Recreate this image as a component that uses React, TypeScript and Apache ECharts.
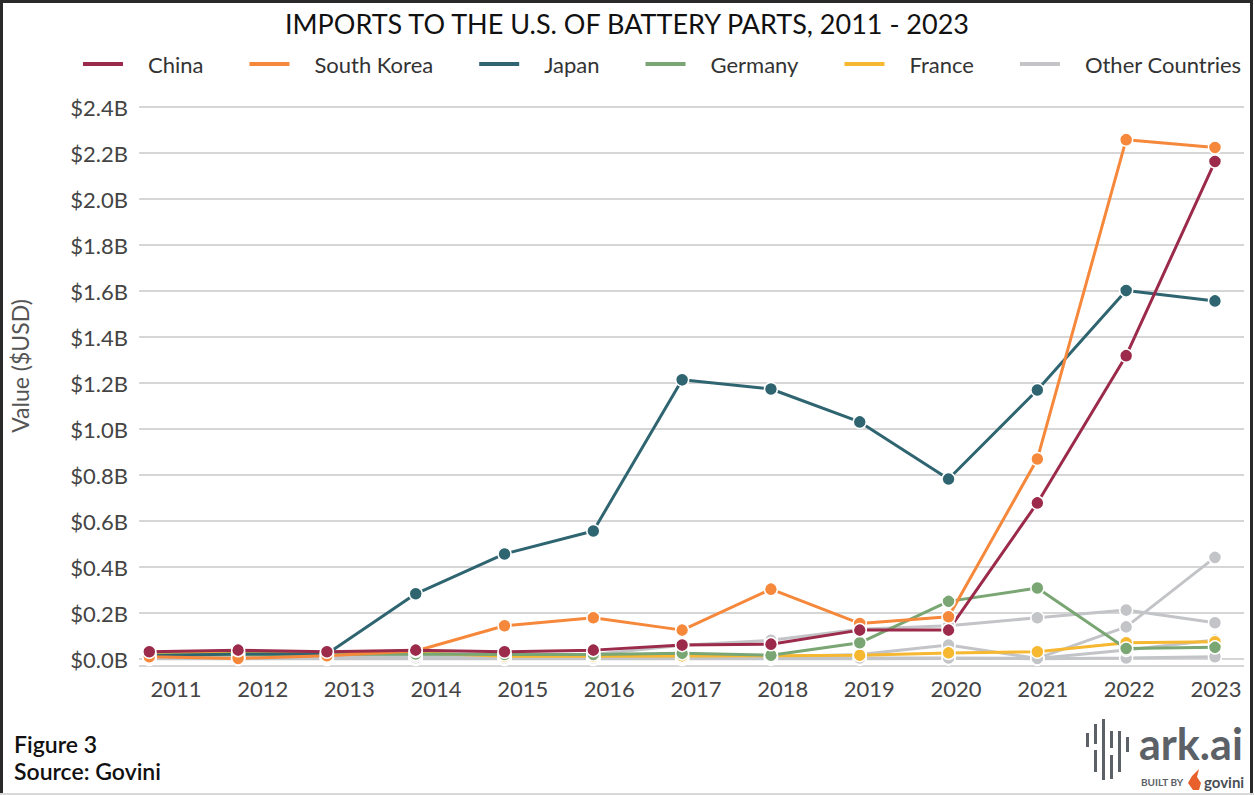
import React, { useEffect, useRef } from "react";
import * as echarts from "echarts";

const years = [2011, 2012, 2013, 2014, 2015, 2016, 2017, 2018, 2019, 2020, 2021, 2022, 2023];
const yearLabels = years.map((y) => String(y));
const china = [0.032, 0.039, 0.032, 0.039, 0.032, 0.039, 0.061, 0.065, 0.126, 0.126, 0.679, 1.319, 2.163];
const southKorea = [0.01, 0.003, 0.015, 0.035, 0.145, 0.18, 0.126, 0.304, 0.155, 0.184, 0.87, 2.258, 2.224];
const japan = [0.015, 0.022, 0.022, 0.284, 0.457, 0.557, 1.214, 1.174, 1.031, 0.783, 1.17, 1.602, 1.557];
const germany = [0.018, 0.02, 0.02, 0.022, 0.02, 0.02, 0.025, 0.017, 0.071, 0.251, 0.309, 0.046, 0.051];
const france = [0.025, 0.028, 0.025, 0.028, 0.012, 0.012, 0.014, 0.015, 0.017, 0.027, 0.032, 0.071, 0.075];
const otherA = [0.008, 0.01, 0.01, 0.015, 0.015, 0.02, 0.06, 0.082, 0.13, 0.145, 0.18, 0.213, 0.158];
const otherB = [0.005, 0.005, 0.005, 0.006, 0.005, 0.005, 0.008, 0.01, 0.02, 0.061, 0.003, 0.14, 0.442];
const otherC = [0.003, 0.003, 0.003, 0.004, 0.003, 0.003, 0.003, 0.005, 0.005, 0.005, 0.003, 0.04, 0.083];
const otherD = [0.001, 0.001, 0.001, 0.001, 0.001, 0.001, 0.001, 0.002, 0.002, 0.003, 0.002, 0.005, 0.01];

const legendNames = ["China", "South Korea", "Japan", "Germany", "France", "Other Countries"];
const colors: Record<string, string> = {
  China: "#9b2a4b",
  "South Korea": "#f5883b",
  Japan: "#2f6570",
  Germany: "#79a672",
  France: "#f6b731",
  "Other Countries": "#c3c4c7",
};

const FONT = "Lato";

function makeSeries(name: string, values: number[]) {
  const c = colors[name];
  return {
    name,
    type: "line",
    xAxisIndex: 0,
    yAxisIndex: 0,
    data: years.map((y, i) => [y, values[i]]),
    symbol: "circle",
    symbolSize: 13,
    lineStyle: { width: 3, color: c },
    itemStyle: { color: c, borderColor: "#ffffff", borderWidth: 1.5 },
    emphasis: { disabled: true },
  };
}

const barRects: number[][] = [
  [1086, 733, 3, 14],
  [1094, 724, 3, 20],
  [1094, 750, 3, 22],
  [1102, 719, 3, 61],
  [1110, 731, 3, 17],
  [1110, 755, 3, 24],
  [1118, 731, 3, 41],
  [1126, 737, 3, 15],
];

export default function App() {
  const ref = useRef<HTMLDivElement>(null);
  useEffect(() => {
    if (!ref.current) return;
    const chart = echarts.init(ref.current, undefined, { renderer: "svg" });
    const option: any = {
      animation: false,
      backgroundColor: "#ffffff",
      textStyle: { fontFamily: FONT },
      title: {
        text: "IMPORTS TO THE U.S. OF BATTERY PARTS, 2011 - 2023",
        left: "center",
        top: 5,
        textStyle: { fontFamily: FONT, fontSize: 27, fontWeight: "normal", color: "#111111" },
      },
      legend: {
        data: legendNames,
        left: 83,
        top: 53,
        padding: 0,
        icon: "rect",
        itemWidth: 40,
        itemHeight: 4,
        itemGap: 46,
        itemStyle: { borderWidth: 0 },
        textStyle: { fontFamily: FONT, fontSize: 22, color: "#333333", padding: [0, 0, 0, 20] },
      },
      grid: [
        { left: 139, right: 10, top: 107, bottom: 129, containLabel: false },
        { left: 176, right: 38, top: 107, bottom: 129, containLabel: false },
      ],
      xAxis: [
        {
          type: "value",
          gridIndex: 0,
          min: 2010.884,
          max: 2023.327,
          splitNumber: 12,
          axisLine: { show: false },
          axisTick: { show: false },
          splitLine: { show: false },
          axisLabel: { show: false },
        },
        {
          type: "category",
          gridIndex: 1,
          data: yearLabels,
          boundaryGap: false,
          axisLine: { show: false },
          axisTick: { show: false },
          splitLine: { show: false },
          axisLabel: { fontFamily: FONT, fontSize: 22, color: "#444444", margin: 11, interval: 0 },
        },
      ],
      yAxis: [
        {
          type: "value",
          gridIndex: 0,
          min: -0.03,
          max: 2.4,
          splitNumber: 12,
          axisLine: { show: false },
          axisTick: { show: false },
          splitLine: { show: true, lineStyle: { color: "#d6d6d6", width: 2 } },
          axisLabel: {
            showMinLabel: false,
            fontFamily: FONT,
            fontSize: 22,
            color: "#444444",
            margin: 11,
            formatter: (v: number) => (v < 0 ? "" : "$" + v.toFixed(1) + "B"),
          },
        },
        {
          type: "value",
          gridIndex: 1,
          show: false,
          min: 0,
          max: 1,
        },
      ],
      series: [
        makeSeries("Other Countries", otherD),
        makeSeries("Other Countries", otherC),
        makeSeries("Other Countries", otherB),
        makeSeries("Other Countries", otherA),
        makeSeries("France", france),
        makeSeries("Germany", germany),
        makeSeries("Japan", japan),
        makeSeries("South Korea", southKorea),
        makeSeries("China", china),
      ],
      graphic: [
        {
          type: "rect",
          shape: { x: 1.5, y: 1.5, width: 1250, height: 800 },
          style: { fill: "none", stroke: "#2a2a2a", lineWidth: 3 },
          silent: true,
        },
        {
          type: "line",
          shape: { x1: 0, y1: 794, x2: 1254, y2: 794 },
          style: { stroke: "#d8d8d8", lineWidth: 2 },
          silent: true,
        },
        {
          type: "text",
          x: 20,
          y: 366,
          rotation: Math.PI / 2,
          style: {
            text: "Value ($USD)",
            fontFamily: FONT,
            fontSize: 23,
            fill: "#555555",
            align: "center",
            verticalAlign: "middle",
          },
          silent: true,
        },
        {
          type: "text",
          left: 14,
          top: 732,
          style: { text: "Figure 3", fontFamily: FONT, fontSize: 23, fontWeight: 600, fill: "#111111" },
        },
        {
          type: "text",
          left: 14,
          top: 759,
          style: { text: "Source: Govini", fontFamily: FONT, fontSize: 23, fontWeight: 600, fill: "#111111" },
        },
        ...barRects.map((r) => ({
          type: "rect",
          shape: { x: r[0], y: r[1], width: r[2], height: r[3] },
          style: { fill: "#5b6167" },
          silent: true,
        })),
        {
          type: "text",
          left: 1139,
          top: 722,
          style: { text: "ark.ai", fontFamily: FONT, fontSize: 43, fontWeight: "bold", fill: "#5b6167" },
        },
        {
          type: "text",
          left: 1141,
          top: 777,
          style: { text: "BUILT BY", fontFamily: FONT, fontSize: 10, fontWeight: "bold", fill: "#5b6167" },
        },
        {
          type: "polygon",
          shape: { points: [[1193, 790], [1188, 783], [1192, 776], [1199, 769], [1197, 777], [1201, 783], [1199, 790]] },
          style: { fill: "#e8612c" },
          silent: true,
        },
        {
          type: "text",
          left: 1204,
          top: 774,
          style: { text: "govini", fontFamily: FONT, fontSize: 15, fontWeight: "bold", fill: "#4a4f55" },
        },
      ],
    };
    chart.setOption(option);
    return () => chart.dispose();
  }, []);
  return (
    <div
      ref={ref}
      style={{ position: "absolute", left: 0, top: 0, width: 1254, height: 795, background: "#fff" }}
    />
  );
}
